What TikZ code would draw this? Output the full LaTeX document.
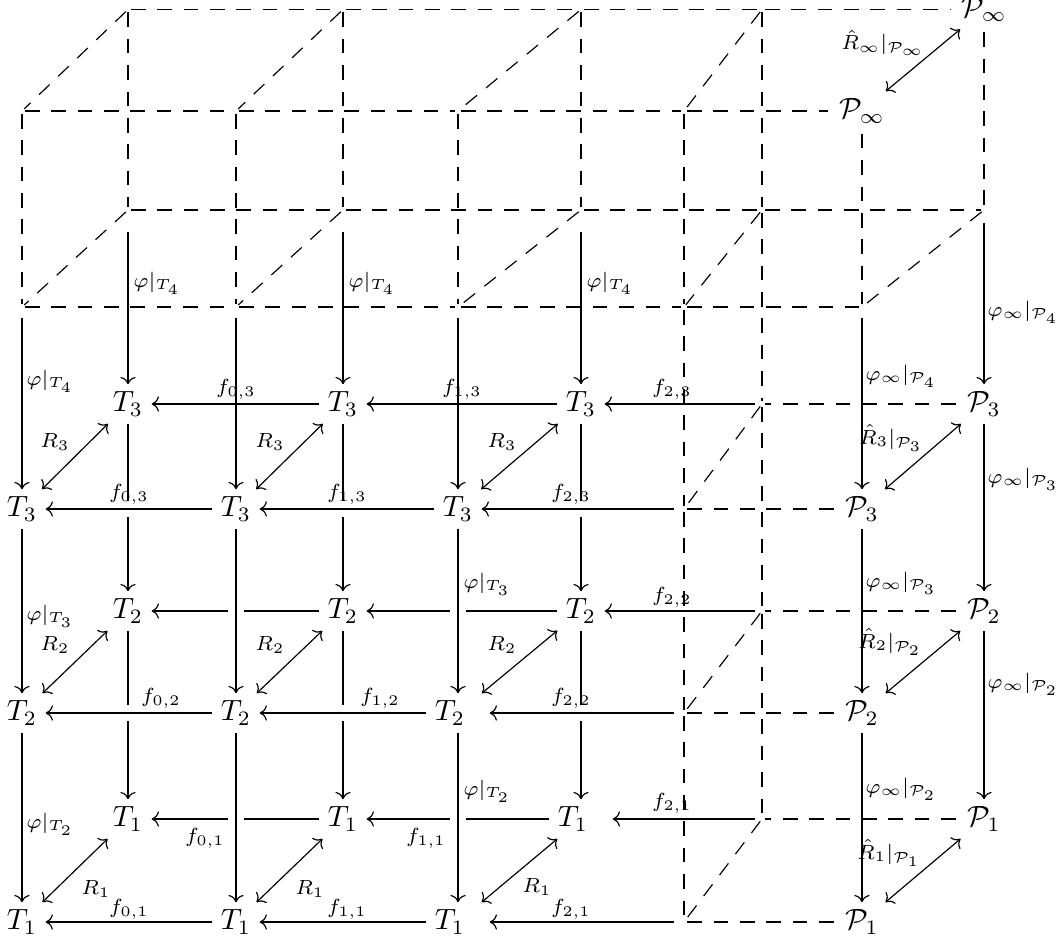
\documentclass[tikz,border=0pt]{standalone}
\usetikzlibrary{arrows.meta}
\begin{document}
\begin{tikzpicture}[x=0.3413pt,y=-0.3413pt,
  obj/.style={inner xsep=2.7pt,inner ysep=2.4pt},
  lab/.style={inner sep=0pt},
  dsh/.style={dash pattern=on 5pt off 4pt,shorten <=1pt,shorten >=1pt},
  ar/.style={-{Computer Modern Rightarrow}},
  dar/.style={{Computer Modern Rightarrow}-{Computer Modern Rightarrow}},
  cross/.style={preaction={draw=white,-,line width=5.5pt}},
  sb/.style={shorten <=7.5pt},
  sbp/.style={shorten <=4.4pt},
  sf/.style={shorten <=3.8pt},
  sb3/.style={shorten <=2.4pt},
  sf3/.style={shorten <=3.4pt}
]
\useasboundingbox (0,0) rectangle (1059,941);
% ---------------- back layer ----------------
\coordinate (bt0) at (128,9.5);
\coordinate (bt1) at (343,9.5);
\coordinate (bt2) at (581,9.5);
\coordinate (bt3) at (762,9.5);
\node[obj] (btP) at (984,9.5) {$\mathcal{P}_\infty$};
\coordinate (b40) at (128,210);
\coordinate (b41) at (343,210);
\coordinate (b42) at (581,210);
\coordinate (b43) at (762,210);
\coordinate (b4P) at (984,210);
\node[obj] (b30) at (128,404) {$T_3$};
\node[obj] (b31) at (343,404) {$T_3$};
\node[obj] (b32) at (581,404) {$T_3$};
\coordinate (b33) at (762,404);
\node[obj] (b3P) at (984,404) {$\mathcal{P}_3$};
\node[obj] (b20) at (128,611) {$T_2$};
\node[obj] (b21) at (343,611) {$T_2$};
\node[obj] (b22) at (581,611) {$T_2$};
\coordinate (b23) at (762,611);
\node[obj] (b2P) at (984,611) {$\mathcal{P}_2$};
\node[obj] (b10) at (128,819) {$T_1$};
\node[obj] (b11) at (343,819) {$T_1$};
\node[obj] (b12) at (581,819) {$T_1$\kern5.5pt};
\coordinate (b13) at (762,819);
\node[obj] (b1P) at (984,819) {$\mathcal{P}_1$};
% ---------------- front layer ----------------
\coordinate (ft0) at (22,111);
\coordinate (ft1) at (236,111);
\coordinate (ft2) at (458,111);
\coordinate (ft3) at (684,111);
\node[obj] (ftP) at (862,111) {$\mathcal{P}_\infty$};
\coordinate (f40) at (22,307);
\coordinate (f41) at (236,307);
\coordinate (f42) at (458,307);
\coordinate (f43) at (684,307);
\coordinate (f4P) at (862,307);
\node[obj] (f30) at (22,509) {$T_3$};
\node[obj] (f31) at (236,509) {$T_3$};
\node[obj] (f32) at (458,509) {$T_3$};
\coordinate (f33) at (684,509);
\node[obj] (f3P) at (862,509) {$\mathcal{P}_3$};
\node[obj] (f20) at (22,713) {$T_2$};
\node[obj] (f21) at (236,713) {$T_2$};
\node[obj] (f22) at (458,713) {$T_2$\kern5.5pt};
\coordinate (f23) at (684,713);
\node[obj] (f2P) at (862,713) {$\mathcal{P}_2$};
\node[obj] (f10) at (22,922) {$T_1$};
\node[obj] (f11) at (236,922) {$T_1$};
\node[obj] (f12) at (458,922) {$T_1$\kern5.5pt};
\coordinate (f13) at (684,922);
\node[obj] (f1P) at (862,922) {$\mathcal{P}_1$};
% ---------------- dashed edges ----------------
\draw[dsh] (bt0) -- (bt1);
\draw[dsh] (bt1) -- (bt2);
\draw[dsh] (bt2) -- (bt3);
\draw[dsh] (bt3) -- (btP);
\draw[dsh] (ft0) -- (ft1);
\draw[dsh] (ft1) -- (ft2);
\draw[dsh] (ft2) -- (ft3);
\draw[dsh] (ft3) -- (ftP);
\draw[dsh] (b40) -- (b41);
\draw[dsh] (b41) -- (b42);
\draw[dsh] (b42) -- (b43);
\draw[dsh] (b43) -- (b4P);
\draw[dsh] (f40) -- (f41);
\draw[dsh] (f41) -- (f42);
\draw[dsh] (f42) -- (f43);
\draw[dsh] (f43) -- (f4P);
\draw[dsh] (b3P) -- (b33);
\draw[dsh] (b2P) -- (b23);
\draw[dsh] (b1P) -- (b13);
\draw[dsh] (f3P) -- (f33);
\draw[dsh] (f2P) -- (f23);
\draw[dsh] (f1P) -- (f13);
\draw[dsh] (bt0) -- (b40);
\draw[dsh] (bt1) -- (b41);
\draw[dsh] (bt2) -- (b42);
\draw[dsh] (btP) -- (b4P);
\draw[dsh] (bt3) -- (b43);
\draw[dsh] (b43) -- (b33);
\draw[dsh] (b33) -- (b23);
\draw[dsh] (b23) -- (b13);
\draw[dsh] (ft0) -- (f40);
\draw[dsh] (ft1) -- (f41);
\draw[dsh] (ft2) -- (f42);
\draw[dsh] (ftP) -- (f4P);
\draw[dsh] (ft3) -- (f43);
\draw[dsh] (f43) -- (f33);
\draw[dsh] (f33) -- (f23);
\draw[dsh] (f23) -- (f13);
\draw[dsh] (bt0) -- (ft0);
\draw[dsh] (bt1) -- (ft1);
\draw[dsh] (bt2) -- (ft2);
\draw[dsh] (bt3) -- (ft3);
\draw[dsh] (b40) -- (f40);
\draw[dsh] (b41) -- (f41);
\draw[dsh] (b42) -- (f42);
\draw[dsh] (b43) -- (f43);
\draw[dsh] (b4P) -- (f4P);
\draw[dsh] (b33) -- (f33);
\draw[dsh] (b23) -- (f23);
\draw[dsh] (b13) -- (f13);
% ---------------- back solid arrows ----------------
\draw[ar,sb] (b40) -- (b30);
\draw[ar,sb] (b41) -- (b31);
\draw[ar,sb] (b42) -- (b32);
\draw[ar,sbp] (b4P) -- (b3P);
\draw[ar] (b30) -- (b20);
\draw[ar] (b31) -- (b21);
\draw[ar] (b32) -- (b22);
\draw[ar] (b3P) -- (b2P);
\draw[ar] (b20) -- (b10);
\draw[ar] (b21) -- (b11);
\draw[ar] (b22) -- (b12);
\draw[ar] (b2P) -- (b1P);
\draw[ar] (b31) -- (b30);
\draw[ar] (b32) -- (b31);
\draw[ar,sb3] (b33) -- (b32);
\draw[ar] (b21) -- (b20);
\draw[ar] (b22) -- (b21);
\draw[ar,sb3] (b23) -- (b22);
\draw[ar] (b11) -- (b10);
\draw[ar] (b12) -- (b11);
\draw[ar,sb3] (b13) -- (b12);
% ---------------- diagonal double arrows ----------------
\draw[dar] (btP) -- (ftP);
\draw[dar] (b30) -- (f30);
\draw[dar] (b31) -- (f31);
\draw[dar] (b32) -- (f32);
\draw[dar] (b3P) -- (f3P);
\draw[dar] (b20) -- (f20);
\draw[dar] (b21) -- (f21);
\draw[dar] (b22) -- (f22);
\draw[dar] (b2P) -- (f2P);
\draw[dar] (b10) -- (f10);
\draw[dar] (b11) -- (f11);
\draw[dar] (b12) -- (f12);
\draw[dar] (b1P) -- (f1P);
% ---------------- front solid arrows ----------------
\draw[ar,sf] (f40) -- (f30);
\draw[ar,sf] (f41) -- (f31);
\draw[ar,sf] (f42) -- (f32);
\draw[ar,sf] (f4P) -- (f3P);
\draw[ar] (f30) -- (f20);
\draw[ar,cross] (f31) -- (f21);
\draw[ar,cross] (f32) -- (f22);
\draw[ar] (f3P) -- (f2P);
\draw[ar] (f20) -- (f10);
\draw[ar,cross] (f21) -- (f11);
\draw[ar,cross] (f22) -- (f12);
\draw[ar] (f2P) -- (f1P);
\draw[ar,cross] (f31) -- (f30);
\draw[ar,cross] (f32) -- (f31);
\draw[ar,cross,sf3] (f33) -- (f32);
\draw[ar,cross] (f21) -- (f20);
\draw[ar,cross] (f22) -- (f21);
\draw[ar,cross,sf3] (f23) -- (f22);
\draw[ar] (f11) -- (f10);
\draw[ar] (f12) -- (f11);
\draw[ar,sf3] (f13) -- (f12);
% ---------------- labels ----------------
\node[lab] (l1) at (157,283) {$\scriptstyle\varphi|_{T_4}$};
\node[lab] (l2) at (372,283) {$\scriptstyle\varphi|_{T_4}$};
\node[lab] (l3) at (610,283) {$\scriptstyle\varphi|_{T_4}$};
\node[lab] (l4) at (1023,312) {$\scriptstyle\varphi_\infty|_{\mathcal{P}_4}$};
\node[lab] (l5) at (1023,479) {$\scriptstyle\varphi_\infty|_{\mathcal{P}_3}$};
\node[lab] (l6) at (1023,684) {$\scriptstyle\varphi_\infty|_{\mathcal{P}_2}$};
\node[lab] (l7) at (883,43) {$\scriptstyle\hat{R}_\infty|_{\mathcal{P}_\infty}$};
\node[lab] (l8) at (236,389) {$\scriptstyle f_{0,3}$};
\node[lab] (l9) at (462,389) {$\scriptstyle f_{1,3}$};
\node[lab] (l10) at (672,389) {$\scriptstyle f_{2,3}$};
\node[lab] (l11) at (672,597) {$\scriptstyle f_{2,2}$};
\node[lab] (l12) at (205,838) {$\scriptstyle f_{0,1}$};
\node[lab] (l13) at (426,838) {$\scriptstyle f_{1,1}$};
\node[lab] (l14) at (672,803) {$\scriptstyle f_{2,1}$};
\node[lab] (l15) at (129,494) {$\scriptstyle f_{0,3}$};
\node[lab] (l16) at (347,494) {$\scriptstyle f_{1,3}$};
\node[lab] (l17) at (571,494) {$\scriptstyle f_{2,3}$};
\node[lab] (l18) at (161,698) {$\scriptstyle f_{0,2}$};
\node[lab] (l19) at (380,698) {$\scriptstyle f_{1,2}$};
\node[lab] (l20) at (571,698) {$\scriptstyle f_{2,2}$};
\node[lab] (l21) at (129,909) {$\scriptstyle f_{0,1}$};
\node[lab] (l22) at (347,909) {$\scriptstyle f_{1,1}$};
\node[lab] (l23) at (571,909) {$\scriptstyle f_{2,1}$};
\node[lab] (l24) at (50,381) {$\scriptstyle\varphi|_{T_4}$};
\node[lab] (l25) at (50,616) {$\scriptstyle\varphi|_{T_3}$};
\node[lab] (l26) at (50,824) {$\scriptstyle\varphi|_{T_2}$};
\node[lab] (l27) at (487,584) {$\scriptstyle\varphi|_{T_3}$};
\node[lab] (l28) at (487,791) {$\scriptstyle\varphi|_{T_2}$};
\node[lab] (l29) at (901,376) {$\scriptstyle\varphi_\infty|_{\mathcal{P}_4}$};
\node[lab] (l30) at (901,583) {$\scriptstyle\varphi_\infty|_{\mathcal{P}_3}$};
\node[lab] (l31) at (901,789) {$\scriptstyle\varphi_\infty|_{\mathcal{P}_2}$};
\node[lab] (l32) at (891,438) {$\scriptstyle\hat{R}_3|_{\mathcal{P}_3}$};
\node[lab] (l33) at (890,642) {$\scriptstyle\hat{R}_2|_{\mathcal{P}_2}$};
\node[lab] (l34) at (889,853) {$\scriptstyle\hat{R}_1|_{\mathcal{P}_1}$};
\node[lab] (l35) at (55,442) {$\scriptstyle R_3$};
\node[lab] (l36) at (270,442) {$\scriptstyle R_3$};
\node[lab] (l37) at (502,442) {$\scriptstyle R_3$};
\node[lab] (l38) at (55,645) {$\scriptstyle R_2$};
\node[lab] (l39) at (270,645) {$\scriptstyle R_2$};
\node[lab] (l40) at (502,645) {$\scriptstyle R_2$};
\node[lab] (l41) at (96,889) {$\scriptstyle R_1$};
\node[lab] (l42) at (310,889) {$\scriptstyle R_1$};
\node[lab] (l43) at (537,887) {$\scriptstyle R_1$};
\end{tikzpicture}
\end{document}
